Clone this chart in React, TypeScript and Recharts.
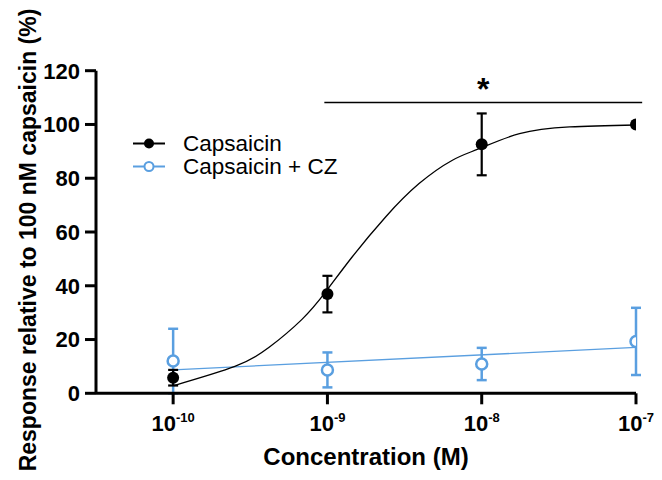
import React from "react";
import {
  ComposedChart, Line, Scatter, XAxis, YAxis, ErrorBar, ReferenceLine,
} from "recharts";

// x values are log10 of the molar concentration
const doses = [-10, -9, -8, -7];

const seriesNames = ["Capsaicin", "Capsaicin + CZ"];

const capsaicinMean = [5.8, 36.9, 92.6, 100];
const capsaicinSem = [2.9, 6.8, 11.5, 0];

const czMean = [12.0, 8.7, 10.9, 19.3];
const czSem = [12.0, 6.5, 6.0, 12.5];

// fitted curves
const capsaicinFitX = [-10, -9.6, -9.38, -9.165, -9.013, -8.84, -8.623, -8.406, -8.19, -8.016, -7.755, -7.43, -7];
const capsaicinFitY = [2.8, 10, 17, 27.5, 37.6, 50.7, 65.6, 78, 86.7, 91, 96.6, 99.1, 99.8];
const czFitX = [-10, -7];
const czFitY = [8.7, 17.1];

const xTicks = [-10, -9, -8, -7];
const yTicks = [0, 20, 40, 60, 80, 100, 120];

// significance bar over 1 nM – 100 nM
const sigBarX = [-9.02, -6.96];
const sigBarY = 108.2;

const BLACK = "#000";
const BLUE = "#5a9fe0";

const capsaicinPoints = doses.map((x, i) => ({ x, y: capsaicinMean[i], err: capsaicinSem[i] }));
const czPoints = doses.map((x, i) => ({ x, y: czMean[i], err: czSem[i] }));
const capsaicinFit = capsaicinFitX.map((x, i) => ({ x, y: capsaicinFitY[i] }));
const czFit = czFitX.map((x, i) => ({ x, y: czFitY[i] }));

function PowerTick(props: any) {
  const { x, y, payload } = props;
  return (
    <text x={x} y={y} dy={25} textAnchor="middle" fill={BLACK} fontSize={22} fontWeight={700}>
      <tspan>10</tspan>
      <tspan fontSize={13} dy={-9}>{String(payload.value)}</tspan>
    </text>
  );
}

function XTitle() {
  return (
    <text x={366} y={465} textAnchor="middle" fill={BLACK} fontSize={24} fontWeight={700}>
      Concentration (M)
    </text>
  );
}

function YTitle() {
  return (
    <text x={36} y={240} transform="rotate(-90, 36, 240)" textAnchor="middle" fill={BLACK} fontSize={23} fontWeight={700}>
      Response relative to 100 nM capsaicin (%)
    </text>
  );
}

function LegendBox() {
  const colors = [BLACK, BLUE];
  return (
    <div style={{ position: "absolute", left: 133, top: 131.5, fontSize: 22.5, color: BLACK, lineHeight: "23px" }}>
      {seriesNames.map((name, i) => (
        <div key={name} style={{ display: "flex", alignItems: "center", height: 23 }}>
          <svg width={50} height={23} style={{ display: "block" }}>
            <line x1={0} x2={32} y1={11.5} y2={11.5} stroke={colors[i]} strokeWidth={2} />
            {i === 0 ? (
              <circle cx={16} cy={11.5} r={5} fill={BLACK} />
            ) : (
              <circle cx={16} cy={11.5} r={4.5} fill="#fff" stroke={BLUE} strokeWidth={2} />
            )}
          </svg>
          <span>{name}</span>
        </div>
      ))}
    </div>
  );
}

export default function App() {
  return (
    <div style={{ position: "absolute", left: 0, top: 0, width: 662, height: 480, background: "#fff", fontFamily: "'Liberation Sans', Arial, sans-serif" }}>
      <ComposedChart width={662} height={480} margin={{ top: 70.7, right: 26, bottom: 0, left: 0 }}>
        <XAxis
          type="number"
          dataKey="x"
          domain={[-10.5, -7]}
          ticks={xTicks}
          allowDataOverflow
          axisLine={{ stroke: BLACK, strokeWidth: 3 }}
          tickLine={{ stroke: BLACK, strokeWidth: 3 }}
          tickSize={11}
          tick={<PowerTick />}
          height={86.7}
          label={<XTitle />}
        />
        <YAxis
          type="number"
          domain={[0, 120]}
          ticks={yTicks}
          width={96}
          axisLine={{ stroke: BLACK, strokeWidth: 3 }}
          tickLine={{ stroke: BLACK, strokeWidth: 3 }}
          tickSize={11}
          tickMargin={5}
          tick={{ fill: BLACK, fontSize: 22, fontWeight: 700 }}
          label={<YTitle />}
        />

        <ReferenceLine
          segment={[{ x: sigBarX[0], y: sigBarY }, { x: sigBarX[1], y: sigBarY }]}
          stroke={BLACK}
          strokeWidth={1.5}
          ifOverflow="visible"
          label={{ value: "*", position: "top", fontSize: 32, fontWeight: 700, fill: BLACK, offset: 2 }}
        />

        <Line data={czFit} dataKey="y" type="linear" stroke={BLUE} strokeWidth={1.3} dot={false} isAnimationActive={false} legendType="none" />
        <Line data={capsaicinFit} dataKey="y" type="natural" stroke={BLACK} strokeWidth={1.3} dot={false} isAnimationActive={false} legendType="none" />

        <Scatter
          data={czPoints}
          dataKey="y"
          isAnimationActive={false}
          shape={(p: any) => <circle cx={p.cx} cy={p.cy} r={5.5} fill="#fff" stroke={BLUE} strokeWidth={2.5} />}
        >
          <ErrorBar dataKey="err" direction="y" width={5} stroke={BLUE} strokeWidth={2.5} />
        </Scatter>
        <Scatter
          data={capsaicinPoints}
          dataKey="y"
          isAnimationActive={false}
          shape={(p: any) => <circle cx={p.cx} cy={p.cy} r={6} fill={BLACK} />}
        >
          <ErrorBar dataKey="err" direction="y" width={5} stroke={BLACK} strokeWidth={2.2} />
        </Scatter>
      </ComposedChart>
      <LegendBox />
    </div>
  );
}
